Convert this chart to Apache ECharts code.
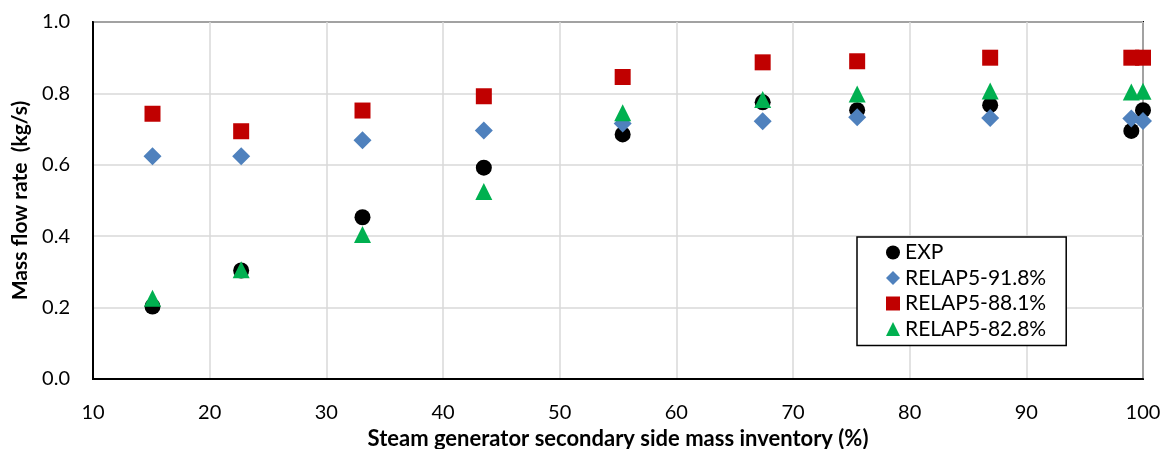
<!DOCTYPE html>
<html>
<head>
<meta charset="utf-8">
<script src="https://cdn.jsdelivr.net/npm/echarts@6/dist/echarts.min.js"></script>
<style>
  html, body { margin: 0; padding: 0; background: #fff; }
  #chart { width: 1162px; height: 449px; }
</style>
</head>
<body>
<div id="chart"></div>
<script>
// Secondary-side mass inventory (%) for each measurement point
const inventory = [15.1, 22.7, 33.1, 43.5, 55.4, 67.4, 75.5, 86.9, 99.0, 100.0];

// Mass flow rate (kg/s)
const expFlow    = [0.203, 0.304, 0.453, 0.592, 0.685, 0.775, 0.753, 0.767, 0.695, 0.753];
const relap918   = [0.624, 0.624, 0.669, 0.696, 0.716, 0.722, 0.733, 0.731, 0.730, 0.723];
const relap881   = [0.743, 0.694, 0.752, 0.792, 0.846, 0.887, 0.890, 0.900, 0.900, 0.900];
const relap828   = [0.226, 0.306, 0.405, 0.525, 0.746, 0.783, 0.798, 0.807, 0.804, 0.806];

const seriesNames = ['EXP', 'RELAP5-91.8%', 'RELAP5-88.1%', 'RELAP5-82.8%'];

const xTicks = { min: 10, max: 100, interval: 10 };
const yTicks = { min: 0, max: 1, interval: 0.2 };

const pairs = ys => inventory.map((x, i) => [x, ys[i]]);

const font = 'Lato, "Liberation Sans", sans-serif';

const chart = echarts.init(document.getElementById('chart'), null, { renderer: 'canvas' });

chart.setOption({
  animation: false,
  backgroundColor: '#ffffff',
  textStyle: { fontFamily: font, color: '#000' },
  grid: {
    left: 93, right: 19, top: 22, bottom: 70,
    containLabel: false, outerBoundsMode: 'none',
    show: true, borderColor: '#000', borderWidth: 2, backgroundColor: 'transparent'
  },
  xAxis: {
    type: 'value',
    min: xTicks.min, max: xTicks.max, interval: xTicks.interval,
    name: 'Steam generator secondary side mass inventory (%)',
    nameLocation: 'middle', nameGap: 47,
    nameTextStyle: { fontFamily: font, fontWeight: 'bold', fontSize: 22, color: '#000' },
    axisLine: { show: true, lineStyle: { color: '#000', width: 2 } },
    axisTick: { show: false },
    axisLabel: { fontFamily: font, fontSize: 20, color: '#000', margin: 24 },
    splitLine: { show: true, lineStyle: { color: '#d9d9d9', width: 1.5 } }
  },
  yAxis: {
    type: 'value',
    min: yTicks.min, max: yTicks.max, interval: yTicks.interval,
    name: 'Mass flow rate  (kg/s)',
    nameLocation: 'middle', nameGap: 58,
    nameTextStyle: { fontFamily: font, fontWeight: 'bold', fontSize: 21, color: '#000' },
    axisLine: { show: true, lineStyle: { color: '#000', width: 2 } },
    axisTick: { show: false },
    axisLabel: {
      fontFamily: font, fontSize: 20, color: '#000', margin: 23,
      formatter: v => v.toFixed(1)
    },
    splitLine: { show: true, lineStyle: { color: '#d9d9d9', width: 1.5 } }
  },
  legend: {
    orient: 'vertical',
    left: 857, top: 237,
    data: seriesNames,
    backgroundColor: '#fff',
    borderColor: '#000', borderWidth: 1.5, borderRadius: 0,
    padding: [5, 20, 6, 29],
    itemWidth: 14, itemHeight: 14, itemGap: 4.5,
    textStyle: { fontFamily: font, fontSize: 21, color: '#000', lineHeight: 20 }
  },
  series: [
    {
      name: seriesNames[0], type: 'scatter', data: pairs(expFlow),
      symbol: 'circle', symbolSize: 16,
      itemStyle: { color: '#000000', opacity: 1 }
    },
    {
      name: seriesNames[1], type: 'scatter', data: pairs(relap918),
      symbol: 'diamond', symbolSize: 18,
      itemStyle: { color: '#4f81bd', opacity: 1 }
    },
    {
      name: seriesNames[2], type: 'scatter', data: pairs(relap881),
      symbol: 'rect', symbolSize: 16,
      itemStyle: { color: '#c00000', opacity: 1 }
    },
    {
      name: seriesNames[3], type: 'scatter', data: pairs(relap828),
      symbol: 'triangle', symbolSize: 17,
      itemStyle: { color: '#00b050', opacity: 1 }
    }
  ]
});
</script>
</body>
</html>
